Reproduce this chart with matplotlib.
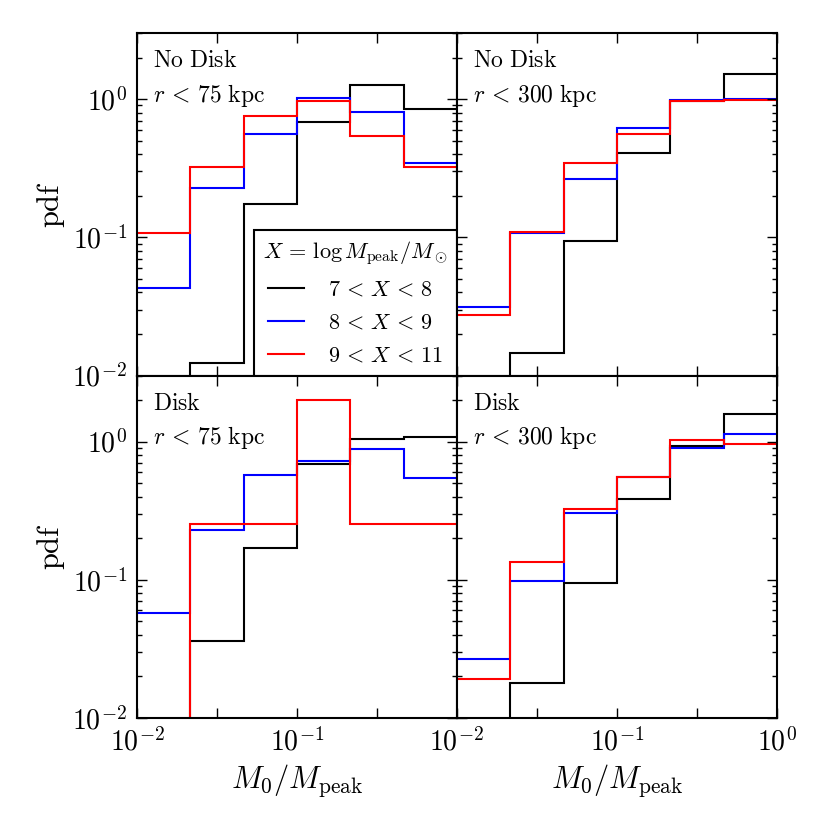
import numpy as np
import matplotlib
matplotlib.use('Agg')
import matplotlib.pyplot as plt
from matplotlib.ticker import FixedLocator, NullLocator, LogLocator, NullFormatter

plt.rcParams['mathtext.fontset'] = 'cm'
plt.rcParams['font.family'] = 'serif'
plt.rcParams['font.serif'] = ['DejaVu Serif']

# bords des bins en M0/Mpeak (log, 1/3 de decade)
bin_edges = [0.01, 0.0215, 0.0464, 0.1, 0.215, 0.464, 1.0]

mass_labels = [r'$7\,<\,X\,<\,8$', r'$8\,<\,X\,<\,9$', r'$9\,<\,X\,<\,11$']
colors = ['k', '#0000ff', '#ff0000']

panel_titles = [r'$\mathrm{No\ Disk}$', r'$\mathrm{No\ Disk}$', r'$\mathrm{Disk}$', r'$\mathrm{Disk}$']
panel_radius = [r'$r\,<\,75\ \mathrm{kpc}$', r'$r\,<\,300\ \mathrm{kpc}$',
                r'$r\,<\,75\ \mathrm{kpc}$', r'$r\,<\,300\ \mathrm{kpc}$']

# pdf par bin, 0 = bin vide
nodisk_75 = [
    [0.0, 0.0123, 0.175, 0.686, 1.26, 0.855],
    [0.043, 0.228, 0.557, 1.02, 0.81, 0.345],
    [0.107, 0.324, 0.753, 0.973, 0.537, 0.321],
]
nodisk_300 = [
    [0.0, 0.0145, 0.0935, 0.408, 0.973, 1.53],
    [0.0316, 0.108, 0.263, 0.62, 0.98, 1.0],
    [0.0274, 0.109, 0.344, 0.564, 0.973, 0.99],
]
disk_75 = [
    [0.0, 0.036, 0.169, 0.684, 1.05, 1.07],
    [0.057, 0.229, 0.573, 0.72, 0.889, 0.546],
    [0.0, 0.252, 0.252, 2.0, 0.252, 0.252],
]
disk_300 = [
    [0.0, 0.018, 0.094, 0.385, 0.923, 1.59],
    [0.0266, 0.098, 0.303, 0.551, 0.897, 1.14],
    [0.0192, 0.135, 0.327, 0.555, 1.02, 0.966],
]
panels = [nodisk_75, nodisk_300, disk_75, disk_300]

fig, axes = plt.subplots(2, 2, figsize=(8.3, 8.3), dpi=100)
fig.subplots_adjust(left=0.165, right=0.936, top=0.960, bottom=0.135, wspace=0, hspace=0)

xmaj = [10 ** p for p in (-2, -1.5, -1, -0.5, 0)]

for i, ax in enumerate(axes.flat):
    row, col = divmod(i, 2)
    for vals, c, lab in zip(panels[i], colors, mass_labels):
        v = np.array(vals)
        v = np.where(v > 0, v, 1e-6)  # bins vides sous l'axe
        ax.stairs(v, bin_edges, color=c, lw=1.5, baseline=None, label=lab)

    ax.set_xscale('log')
    ax.set_yscale('log')
    ax.set_xlim(1e-2, 1)
    ax.set_ylim(1e-2, 3)

    ax.xaxis.set_major_locator(FixedLocator(xmaj))
    ax.xaxis.set_minor_locator(NullLocator())
    if row == 1:
        if col == 0:
            xl = [r'$10^{-2}$', '', r'$10^{-1}$', '', '']
        else:
            xl = [r'$10^{-2}$', '', r'$10^{-1}$', '', r'$10^{0}$']
        ax.set_xticklabels(xl)
        ax.set_xlabel(r'$M_0/M_{\rm peak}$', fontsize=22)
    else:
        ax.set_xticklabels([])

    ax.yaxis.set_major_locator(FixedLocator([1e-2, 1e-1, 1e0]))
    ax.yaxis.set_minor_locator(LogLocator(base=10, subs=np.arange(2, 10)))
    ax.yaxis.set_minor_formatter(NullFormatter())
    if col == 0:
        ax.set_yticklabels([r'$10^{-2}$', r'$10^{-1}$', r'$10^{0}$'])
        ax.set_ylabel(r'$\mathrm{pdf}$', fontsize=22)
    else:
        ax.set_yticklabels([])

    ax.tick_params(which='both', direction='in', top=True, right=True, labelsize=20, pad=7)
    ax.tick_params(which='major', length=7, width=1)
    ax.tick_params(which='minor', length=3.5, width=1)
    for s in ax.spines.values():
        s.set_linewidth(1.5)

    ax.text(0.05, 0.90, panel_titles[i], transform=ax.transAxes, fontsize=17, va='baseline')
    ax.text(0.05, 0.80, panel_radius[i], transform=ax.transAxes, fontsize=17, va='baseline')

leg = axes[0, 0].legend(loc='lower right', borderaxespad=0, fancybox=False,
                        title=r'$X\,=\,\log M_{\rm peak}/M_\odot$', fontsize=16,
                        title_fontsize=16, handlelength=1.6, handletextpad=1.1,
                        framealpha=1)
leg.get_frame().set_edgecolor('k')
leg.get_frame().set_linewidth(1.5)

fig.savefig('out.png', dpi=100)
